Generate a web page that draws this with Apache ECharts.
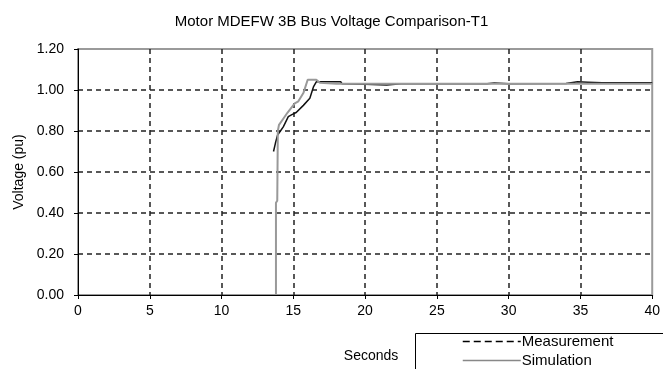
<!DOCTYPE html>
<html>
<head>
<meta charset="utf-8">
<script src="https://cdn.jsdelivr.net/npm/echarts@6/dist/echarts.min.js"></script>
<style>
  html, body { margin: 0; padding: 0; background: #fff; }
  #chart { width: 663px; height: 369px; }
</style>
</head>
<body>
<div id="chart"></div>
<script>
// Bus voltage (pu) versus time (s) for motor MDEFW 3B, test T1
const titleText = 'Motor MDEFW 3B Bus Voltage Comparison-T1';
const seriesNames = ['Measurement', 'Simulation'];

// Measured bus voltage: [seconds, pu]
const measurement = [
  [13.62, 0.70], [13.72, 0.70], [13.75, 0.74], [13.90, 0.78], [14.10, 0.80],
  [14.30, 0.82], [14.65, 0.87], [14.90, 0.88], [15.20, 0.89], [15.70, 0.925],
  [16.15, 0.96], [16.40, 1.015], [16.60, 1.04], [18.30, 1.04], [18.40, 1.03],
  [20.00, 1.028], [21.50, 1.024], [22.50, 1.03], [28.50, 1.03], [29.00, 1.034],
  [30.00, 1.03], [34.00, 1.032], [34.80, 1.04], [35.50, 1.038], [36.50, 1.035],
  [40.00, 1.035]
];

// Simulated bus voltage: [seconds, pu]
const simulation = [
  [13.79, 0.00], [13.79, 0.45], [13.88, 0.46], [13.92, 0.80], [14.00, 0.83],
  [14.30, 0.86], [14.60, 0.89], [15.10, 0.935], [15.35, 0.945], [15.70, 0.985],
  [16.00, 1.05], [16.60, 1.05], [16.85, 1.035], [18.00, 1.03], [40.00, 1.03]
];

const xMin = 0, xMax = 40, xStep = 5;
const yMin = 0, yMax = 1.2, yStep = 0.2;

const font = 'Arial, "Liberation Sans", sans-serif';
const chart = echarts.init(document.getElementById('chart'), null, { renderer: 'canvas' });

chart.setOption({
  animation: false,
  backgroundColor: '#fff',
  title: {
    text: titleText,
    left: 'center',
    top: 9,
    textStyle: { fontFamily: font, fontSize: 15, fontWeight: 'normal', color: '#000' }
  },
  grid: {
    left: 78, right: 5, top: 49, bottom: 74,
    show: true, borderColor: '#9a9a9a', borderWidth: 2, backgroundColor: 'transparent'
  },
  xAxis: {
    type: 'value', min: xMin, max: xMax, interval: xStep,
    name: 'Seconds', nameLocation: 'middle', nameGap: 54,
    nameTextStyle: { fontFamily: font, fontSize: 14, color: '#000', padding: [0, 0, 0, 12] },
    axisLine: { show: true, onZero: false, lineStyle: { color: '#000', width: 1 } },
    axisTick: { show: true, length: 4, lineStyle: { color: '#000' } },
    axisLabel: { fontFamily: font, fontSize: 14, color: '#000', margin: 9 },
    splitLine: { show: true, showMinLine: false, showMaxLine: false,
      lineStyle: { type: [5, 4], color: '#222', width: 1.5 } }
  },
  yAxis: {
    type: 'value', min: yMin, max: yMax, interval: yStep,
    name: 'Voltage (pu)', nameLocation: 'middle', nameGap: 50, nameRotate: 90,
    nameTextStyle: { fontFamily: font, fontSize: 14, color: '#000' },
    axisLine: { show: true, onZero: false, lineStyle: { color: '#000', width: 1 } },
    axisTick: { show: true, length: 4, lineStyle: { color: '#000' } },
    axisLabel: { fontFamily: font, fontSize: 14, color: '#000', margin: 14,
      formatter: v => v.toFixed(2) },
    splitLine: { show: true, showMinLine: false, showMaxLine: false,
      lineStyle: { type: [5, 4], color: '#222', width: 1.5 } }
  },
  graphic: [{
    type: 'rect', left: 415, top: 333, z: -1,
    shape: { width: 260, height: 50 },
    style: { fill: '#fff', stroke: '#000', lineWidth: 1 }
  }],
  legend: {
    orient: 'vertical', left: 462, top: 334, itemWidth: 58, itemHeight: 14, itemGap: 4,
    padding: 0,
    textStyle: { fontFamily: font, fontSize: 15, color: '#000', padding: [0, 0, 0, -4] },
    data: [
      { name: seriesNames[0], itemStyle: { opacity: 0 },
        lineStyle: { type: [7, 4], color: '#000', width: 1.5 } },
      { name: seriesNames[1], itemStyle: { opacity: 0 },
        lineStyle: { type: 'solid', color: '#888', width: 1.5 } }
    ]
  },
  series: [
    {
      name: seriesNames[0], type: 'line', data: measurement, symbol: 'none',
      lineStyle: { color: '#111', width: 1.5 }, itemStyle: { color: '#111' }, z: 3
    },
    {
      name: seriesNames[1], type: 'line', data: simulation, symbol: 'none',
      lineStyle: { color: '#999', width: 2 }, itemStyle: { color: '#999' }, z: 4
    }
  ]
});
</script>
</body>
</html>
